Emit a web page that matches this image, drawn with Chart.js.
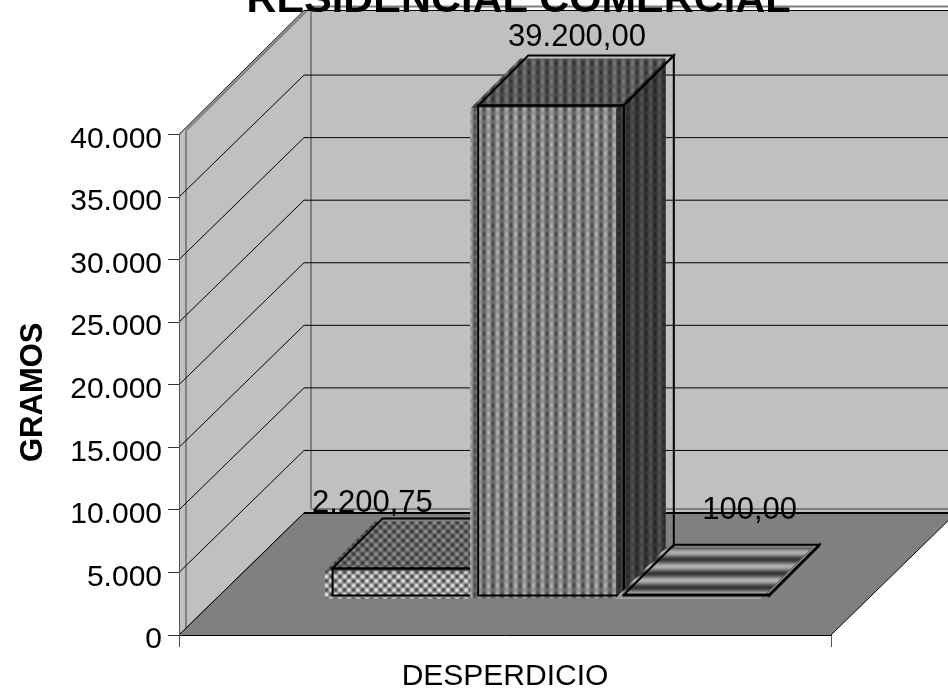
<!DOCTYPE html>
<html><head><meta charset="utf-8">
<style>html,body{margin:0;padding:0;background:#fff}canvas{display:block}</style>
<script src="https://cdn.jsdelivr.net/npm/chart.js@4/dist/chart.umd.min.js"></script>
</head><body><canvas id="c" width="948" height="691"></canvas>
<script>
const titleText = 'RESIDENCIAL COMERCIAL';
const categories = ['DESPERDICIO'];
const yAxisTitle = 'GRAMOS';
const seriesNames = ['Serie 1', 'Serie 2', 'Serie 3'];
const seriesValues = [2200.75, 39200, 100];
const yMax = 40000;
const yStep = 5000;

const FONT = '"Liberation Sans", Arial, sans-serif';
const WALL = '#c0c0c0', FLOOR = '#808080', EDGE = '#808080';
const DEPTH = {x: 125, y: -122};      // wall depth projection
const TOP_LIFT = 2;                   // back wall top sits slightly above the projected maximum
const EDGE_SHIFT = {x: 7, y: -4};     // grey edge offset
const BAR_SHIFT = {x: 46, y: -39};    // bars stand inside the floor
const BAR_DEPTH = 50;
const FILL_SHIFT = {x: -8, y: 3};     // texture is misregistered from outline
const LABEL_SHIFT = [{x: -83, y: -56}, {x: -24, y: -60}, {x: 3, y: -76}];

function tile(w, h, f) {
  const c = document.createElement('canvas'); c.width = w; c.height = h;
  const g = c.getContext('2d'), im = g.createImageData(w, h);
  for (let y = 0; y < h; y++) for (let x = 0; x < w; x++) {
    const v = Math.max(0, Math.min(255, f(x, y))), i = (y * w + x) * 4;
    im.data[i] = im.data[i + 1] = im.data[i + 2] = v; im.data[i + 3] = 255;
  }
  g.putImageData(im, 0, 0);
  return g.createPattern(c, 'repeat');
}
const T = 2 * Math.PI;
const dots = (b, a) => tile(9, 9, (x, y) => b + a * Math.cos(T * x / 9) * Math.cos(T * y / 9));
const weave = (b, a) => tile(9, 9, (x, y) => b + a * Math.cos(T * x / 9) * (0.7 + 0.3 * Math.cos(T * y / 9)));
const bands = (b, a) => tile(14, 14, (x, y) => b + a * Math.cos(T * y / 14));

const frontFills = [dots(150, 85), weave(125, 55), tile(14, 14, () => 205)];
const topFills = [dots(100, 48), weave(85, 36), bands(115, 60)];
const sideFills = [dots(70, 30), weave(60, 24), bands(70, 30)];

const fmtValue = v => v.toLocaleString('de-DE', {minimumFractionDigits: 2, maximumFractionDigits: 2});
const fmtTick = v => v.toLocaleString('de-DE');

function poly(ctx, pts) {
  ctx.beginPath();
  pts.forEach((p, i) => i ? ctx.lineTo(p[0], p[1]) : ctx.moveTo(p[0], p[1]));
  ctx.closePath();
}
function seg(ctx, x1, y1, x2, y2) {
  ctx.beginPath(); ctx.moveTo(x1, y1); ctx.lineTo(x2, y2); ctx.stroke();
}

const scene = {
  id: 'scene',
  afterLayout(chart) {
    const t = chart.titleBlock;
    t.left += 103; t.right += 103; t.top = -20; t.bottom = 22;
  },
  beforeDraw(chart) {
    const ctx = chart.ctx, a = chart.chartArea, ys = chart.scales.y;
    const y0 = ys.getPixelForValue(0), yT = ys.getPixelForValue(yMax);
    const l = a.left, r = a.right, dx = DEPTH.x, dy = DEPTH.y;
    const top = yT + dy - TOP_LIFT;
    ctx.save();
    // walls
    ctx.fillStyle = WALL;
    poly(ctx, [[l, y0], [l + dx, y0 + dy], [l + dx, top], [l, yT]]); ctx.fill();
    ctx.fillRect(l + dx, top, r - l, y0 + dy - top);
    // grey edges
    ctx.strokeStyle = EDGE; ctx.lineWidth = 2;
    const ex = EDGE_SHIFT.x, ey = EDGE_SHIFT.y;
    seg(ctx, l + ex, y0, l + ex, yT + ey);
    seg(ctx, l + ex, yT + ey, l + dx + ex, top + ey);
    seg(ctx, l + dx + ex, top + ey, r + dx, top + ey);
    seg(ctx, l + dx + ex, top + ey, l + dx + ex, y0 + dy + ey);
    seg(ctx, l + dx + ex, y0 + dy + ey, r + dx, y0 + dy + ey);
    // gridlines
    ctx.strokeStyle = '#000'; ctx.lineWidth = 1;
    ys.ticks.forEach(t => {
      const y = ys.getPixelForValue(t.value);
      const by = t.value === yMax ? top : y + dy;
      seg(ctx, l, y, l + dx, by);
      seg(ctx, l + dx, by, r + dx, by);
    });
    // floor
    ctx.fillStyle = FLOOR;
    poly(ctx, [[l, y0], [r, y0], [r + dx, y0 + dy], [l + dx, y0 + dy]]); ctx.fill();
    ctx.lineWidth = 1; ctx.strokeStyle = '#000';
    seg(ctx, l, y0, l + dx, y0 + dy);
    seg(ctx, r, y0, r + dx, y0 + dy);
    ctx.lineWidth = 2;
    seg(ctx, l + dx, y0 + dy, r + dx, y0 + dy);
    ctx.restore();
  },
  beforeDatasetsDraw(chart) {
    const ctx = chart.ctx, d = BAR_DEPTH;
    const bars = seriesValues.map((_, i) => {
      const el = chart.getDatasetMeta(i).data[0];
      const p = el.getProps(['x', 'y', 'base', 'width'], true);
      return {el, l: p.x - p.width / 2, r: p.x + p.width / 2, t: p.y, b: p.base};
    });
    bars.forEach((q, i) => {
      const {l, r, t, b} = q;
      // texture
      ctx.save();
      ctx.translate(BAR_SHIFT.x + FILL_SHIFT.x, BAR_SHIFT.y + FILL_SHIFT.y);
      ctx.fillStyle = sideFills[i];
      poly(ctx, [[r, t], [r + d, t - d], [r + d, b - d], [r, b]]); ctx.fill();
      ctx.fillStyle = topFills[i];
      poly(ctx, [[l, t], [l + d, t - d], [r + d, t - d], [r, t]]); ctx.fill();
      q.el.draw(ctx);
      ctx.restore();
      // outline
      ctx.save();
      ctx.translate(BAR_SHIFT.x, BAR_SHIFT.y);
      ctx.strokeStyle = '#000'; ctx.lineWidth = 2; ctx.lineJoin = 'miter';
      poly(ctx, [[l, t], [r, t], [r, b], [l, b]]); ctx.stroke();
      poly(ctx, [[l, t], [l + d, t - d], [r + d, t - d], [r, t]]); ctx.stroke();
      poly(ctx, [[r, t], [r + d, t - d], [r + d, b - d], [r, b]]); ctx.stroke();
      ctx.restore();
    });
    // value labels
    ctx.save();
    ctx.font = '31px ' + FONT; ctx.fillStyle = '#000';
    ctx.textAlign = 'center'; ctx.textBaseline = 'alphabetic';
    bars.forEach((q, i) => {
      const s = LABEL_SHIFT[i];
      ctx.fillText(fmtValue(seriesValues[i]),
        (q.l + q.r) / 2 + BAR_SHIFT.x + d + s.x,
        q.t + BAR_SHIFT.y + s.y);
    });
    ctx.restore();
    return false;
  }
};

new Chart(document.getElementById('c'), {
  type: 'bar',
  data: {
    labels: categories,
    datasets: seriesValues.map((v, i) => ({
      label: seriesNames[i],
      data: [v],
      backgroundColor: frontFills[i],
      borderWidth: 0,
      categoryPercentage: 0.67,
      barPercentage: 1,
      clip: false
    }))
  },
  options: {
    responsive: false,
    animation: false,
    layout: {padding: {top: 93, right: 117, left: 0, bottom: 0}},
    plugins: {
      legend: {display: false},
      tooltip: {enabled: false},
      title: {
        display: true, text: titleText, color: '#000', padding: 0,
        font: {family: FONT, size: 41.5, weight: 'bold', lineHeight: 1}
      }
    },
    scales: {
      x: {
        afterFit: s => { s.height = 56; },
        grid: {drawOnChartArea: false, color: '#555', tickLength: 12, offset: true},
        border: {color: '#000'},
        ticks: {color: '#000', font: {family: FONT, size: 30, lineHeight: 1}, padding: 15, maxRotation: 0}
      },
      y: {
        min: 0, max: yMax,
        afterFit: s => {
          s.width = 179;
          if (!s._titleShifted) {
            s._titleShifted = true;
            const drawTitle = s.drawTitle;
            s.drawTitle = function () {
              const c = this.ctx;
              c.save(); c.translate(0, 7.5); drawTitle.call(this); c.restore();
            };
          }
        },
        grid: {drawOnChartArea: false, color: '#333', tickLength: 11},
        border: {color: '#555'},
        ticks: {stepSize: yStep, color: '#000', padding: 6, callback: fmtTick, labelOffset: 5,
                font: {family: FONT, size: 30, lineHeight: 1}},
        title: {display: true, text: yAxisTitle, color: '#000', padding: {top: 15, bottom: 0},
                font: {family: FONT, size: 31, weight: 'bold', lineHeight: 1.2}}
      }
    }
  },
  plugins: [scene]
});
</script></body></html>
